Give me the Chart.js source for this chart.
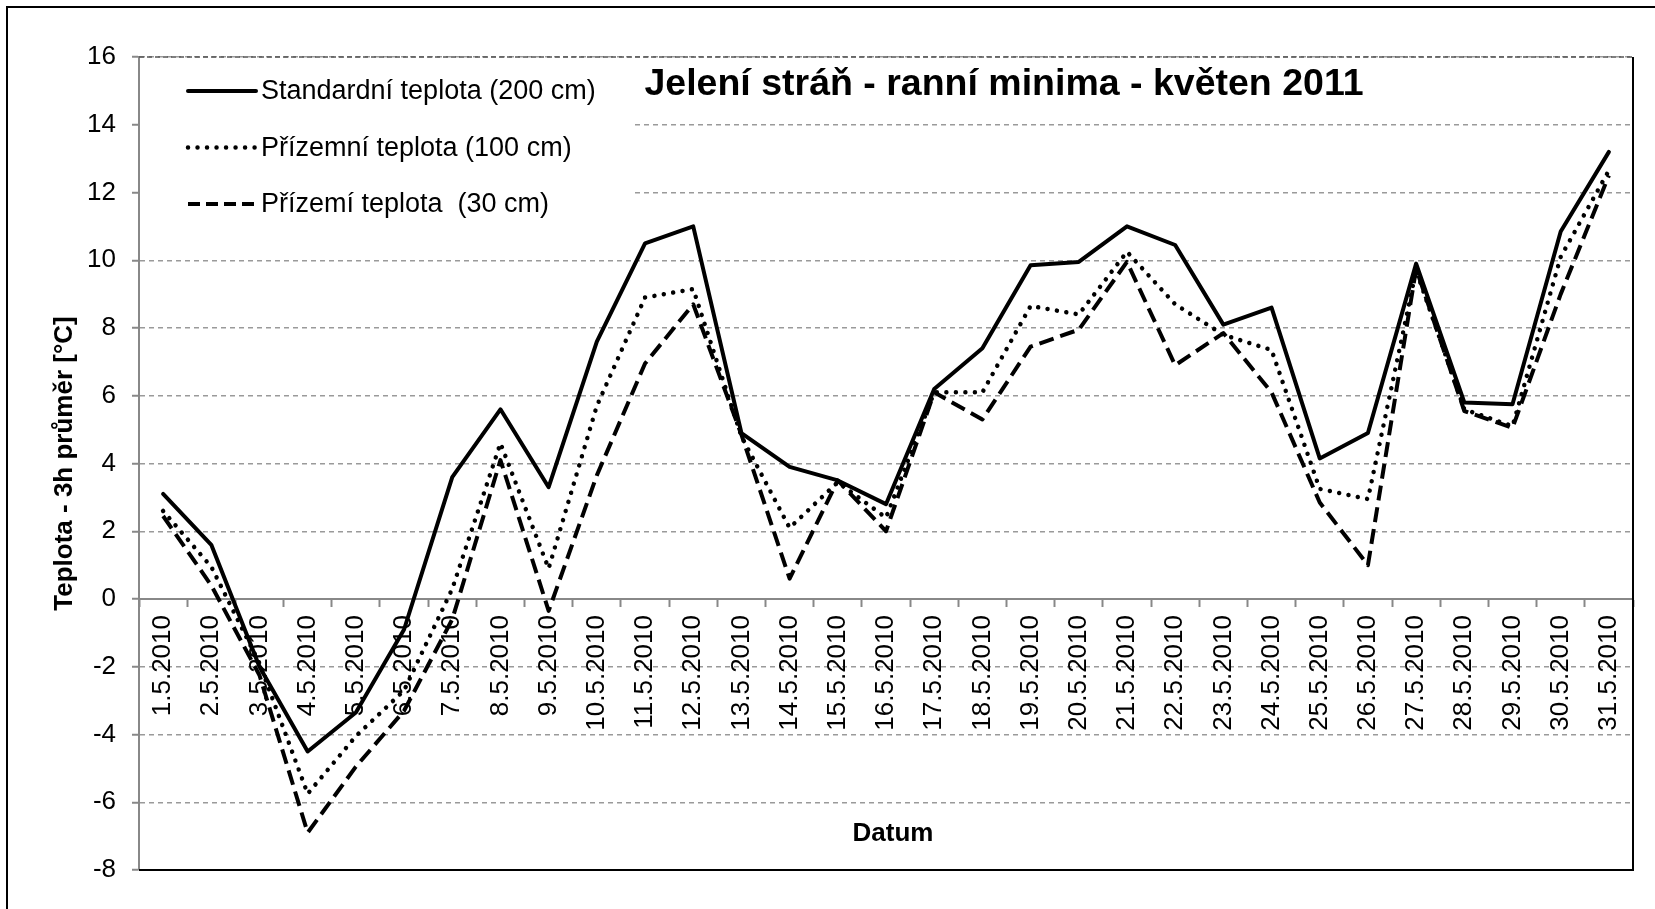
<!DOCTYPE html>
<html>
<head>
<meta charset="utf-8">
<title>Jelení stráň - ranní minima - květen 2011</title>
<script src="https://cdn.jsdelivr.net/npm/chart.js@4"></script>
<style>
  html, body { margin: 0; padding: 0; background: #fff; overflow: hidden; }
  #wrap { position: relative; width: 1655px; height: 909px; }
  #frame { position: absolute; left: 6px; top: 6px; width: 1700px; height: 1000px;
           border-left: 2px solid #000; border-top: 2px solid #000; pointer-events: none; }
  canvas { position: absolute; left: 0; top: 0; }
</style>
</head>
<body>
<div id="wrap">
  <canvas id="chart" width="1655" height="909"></canvas>
  <div id="frame"></div>
</div>
<script>
const labels = ['1.5.2010', '2.5.2010', '3.5.2010', '4.5.2010', '5.5.2010', '6.5.2010', '7.5.2010',
  '8.5.2010', '9.5.2010', '10.5.2010', '11.5.2010', '12.5.2010', '13.5.2010', '14.5.2010',
  '15.5.2010', '16.5.2010', '17.5.2010', '18.5.2010', '19.5.2010', '20.5.2010', '21.5.2010',
  '22.5.2010', '23.5.2010', '24.5.2010', '25.5.2010', '26.5.2010', '27.5.2010', '28.5.2010',
  '29.5.2010', '30.5.2010', '31.5.2010'];

// Standardní teplota (200 cm)
const standard200 = [3.1, 1.6, -2.0, -4.5, -3.35, -0.9, 3.6, 5.6, 3.3, 7.6, 10.5, 11.0, 4.9, 3.9,
  3.5, 2.8, 6.2, 7.4, 9.85, 9.95, 11.0, 10.45, 8.1, 8.6, 4.15, 4.9, 9.9, 5.8, 5.75, 10.85, 13.2];

// Přízemní teplota (100 cm)
const ground100 = [2.6, 0.95, -1.9, -5.75, -4.05, -2.7, 0.3, 4.6, 0.9, 5.7, 8.9, 9.15, 4.8, 2.1,
  3.45, 2.4, 6.1, 6.1, 8.65, 8.4, 10.25, 8.7, 7.8, 7.35, 3.25, 2.95, 9.7, 5.6, 5.1, 10.1, 12.65];

// Přízemí teplota (30 cm)
const ground30 = [2.45, 0.4, -2.25, -6.9, -4.95, -3.3, -0.6, 4.1, -0.35, 3.65, 6.95, 8.7, 4.85, 0.6,
  3.5, 2.0, 6.1, 5.3, 7.45, 7.95, 9.95, 6.9, 7.85, 6.1, 2.85, 1.0, 9.75, 5.55, 5.05, 9.0, 12.5];

const seriesNames = ['Standardní teplota (200 cm)', 'Přízemní teplota (100 cm)', 'Přízemí teplota  (30 cm)'];
const yTicks = { min: -8, max: 16, step: 2 };

const chartTitle = 'Jelení stráň - ranní minima - květen 2011';
const xTitle = 'Datum';
const yTitle = 'Teplota - 3h průměr [°C]';

const FONT = "'Liberation Sans', Arial, sans-serif";
Chart.defaults.font.family = FONT;
Chart.defaults.color = '#000';

// title, legend, frame and axis caption drawn inside the plot area (like the Excel original)
const plotDecor = {
  id: 'plotDecor',
  beforeDatasetsDraw(chart) {
    const { ctx, chartArea: a } = chart;
    ctx.save();
    // legend box covers the grid lines behind it
    ctx.fillStyle = '#fff';
    ctx.fillRect(a.left + 1, a.top + 2, 494, 172);

    // top of the plot area
    ctx.strokeStyle = '#555';
    ctx.lineWidth = 1.5;
    ctx.setLineDash([5, 3]);
    ctx.beginPath();
    ctx.moveTo(a.left, a.top);
    ctx.lineTo(a.right, a.top);
    ctx.stroke();

    // right and bottom edge
    ctx.setLineDash([]);
    ctx.strokeStyle = '#000';
    ctx.lineWidth = 2;
    ctx.beginPath();
    ctx.moveTo(a.right, a.top);
    ctx.lineTo(a.right, a.bottom);
    ctx.lineTo(a.left, a.bottom);
    ctx.stroke();
    ctx.restore();
  },
  afterDraw(chart) {
    const { ctx, chartArea: a } = chart;
    ctx.save();

    // legend
    chart.data.datasets.forEach((ds, i) => {
      const y = a.top + 34 + i * 56.5;
      ctx.strokeStyle = ds.borderColor;
      ctx.lineWidth = ds.borderWidth;
      ctx.lineCap = ds.borderCapStyle || 'butt';
      ctx.setLineDash(ds.legendDash || ds.borderDash || []);
      ctx.beginPath();
      ctx.moveTo(a.left + 49, y);
      ctx.lineTo(a.left + 117, y);
      ctx.stroke();

      ctx.setLineDash([]);
      ctx.fillStyle = '#000';
      ctx.font = '27px ' + FONT;
      ctx.textAlign = 'left';
      ctx.textBaseline = 'middle';
      ctx.fillText(ds.label, a.left + 122, y + 1);
    });

    // chart title
    ctx.font = 'bold 37.5px ' + FONT;
    ctx.textAlign = 'center';
    ctx.textBaseline = 'middle';
    ctx.fillText(chartTitle, a.left + 865, a.top + 28);

    // x axis caption
    ctx.font = 'bold 26px ' + FONT;
    ctx.fillText(xTitle, (a.left + a.right) / 2 + 7, a.bottom - 36);
    ctx.restore();
  }
};

const ctx = document.getElementById('chart').getContext('2d');

const myChart = new Chart(ctx, {
  type: 'line',
  data: {
    labels: labels,
    datasets: [{
      label: seriesNames[0],
      data: standard200,
      borderColor: '#000',
      borderWidth: 4,
      borderCapStyle: 'round',
      borderJoinStyle: 'round'
    }, {
      label: seriesNames[1],
      data: ground100,
      borderColor: '#000',
      borderWidth: 4.5,
      borderDash: [0.01, 9.5],
      borderCapStyle: 'round',
      borderJoinStyle: 'round'
    }, {
      label: seriesNames[2],
      data: ground30,
      borderColor: '#000',
      borderWidth: 4,
      borderDash: [15, 7],
      legendDash: [12, 6],
      borderCapStyle: 'butt',
      borderJoinStyle: 'round'
    }]
  },
  options: {
    responsive: false,
    animation: false,
    devicePixelRatio: 1,
    layout: { padding: { left: 10, right: 22, top: 57, bottom: 39 } },
    elements: {
      line: { tension: 0, fill: false },
      point: { radius: 0, hoverRadius: 0 }
    },
    plugins: {
      legend: { display: false },
      title: { display: false },
      tooltip: { enabled: false }
    },
    scales: {
      x: {
        position: { y: 0 },
        offset: true,
        grid: {
          offset: true,
          drawOnChartArea: false,
          drawTicks: true,
          tickLength: 7,
          tickColor: '#888',
          tickWidth: 2
        },
        border: { color: '#888', width: 2 },
        ticks: {
          autoSkip: false,
          minRotation: 90,
          maxRotation: 90,
          padding: 9,
          color: '#000',
          font: { size: 26 }
        },
        afterFit(scale) {
          scale.height = 0;
          scale.paddingLeft = 0;
          scale.paddingRight = 0;
        }
      },
      y: {
        min: yTicks.min,
        max: yTicks.max,
        ticks: {
          stepSize: yTicks.step,
          padding: 16,
          color: '#000',
          font: { size: 26 }
        },
        grid: {
          color: (c) => c.tick && c.tick.value === 0 ? 'rgba(0,0,0,0)' : '#9a9a9a',
          lineWidth: 1.5,
          drawTicks: true,
          tickLength: 7,
          tickColor: '#888',
          tickWidth: 2
        },
        border: { color: '#888', width: 2, dash: [5, 4] },
        title: {
          display: true,
          text: yTitle,
          color: '#000',
          font: { size: 26, weight: 'bold' },
          padding: { top: 39, bottom: 7 }
        },
        afterFit(scale) { scale.width = 129; }
      }
    }
  },
  plugins: [plotDecor]
});
</script>
</body>
</html>
